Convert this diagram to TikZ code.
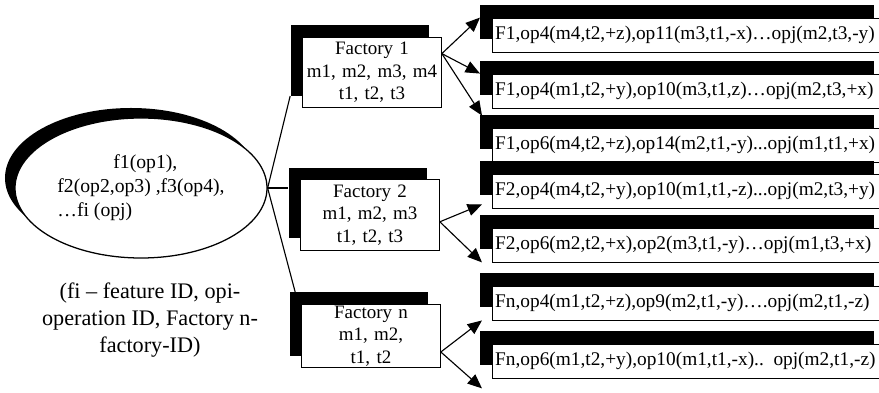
\documentclass[tikz,border=0pt]{standalone}
\usepackage{fontspec}
\setmainfont{Liberation Serif}
\usetikzlibrary{arrows.meta,calc,shapes.geometric,shadows}

\begin{document}
\begin{tikzpicture}[>={Triangle[length=3.6mm,width=3mm]},line width=0.8pt,
  feat/.style={draw,ellipse,fill=white,line width=0.9pt,minimum width=6.3cm,minimum height=3.5cm,inner sep=0pt,
    align=left,font=\fontsize{14}{17}\selectfont,
    general shadow={fill=black,shadow xshift=-0.25cm,shadow yshift=0.25cm}},
  fact/.style={draw,fill=white,line width=0.6pt,text width=3.4cm,inner sep=1pt,align=center,minimum height=1.76cm,
    font=\fontsize{13.5}{16}\selectfont,
    general shadow={fill=black,shadow xshift=-0.3cm,shadow yshift=0.3cm}},
  plan/.style={draw,fill=white,line width=0.6pt,text width=9.7cm,inner xsep=2pt,inner ysep=0pt,align=left,
    minimum height=0.85cm,anchor=west,font=\fontsize{13.75}{16}\selectfont,
    general shadow={fill=black,shadow xshift=-0.3cm,shadow yshift=0.33cm}}]
  \useasboundingbox (0,0) rectangle (21.975,-9.825);

  \node[feat] (e) at (3.525,-4.7)
     {\hspace*{1.4cm}f1(op1),\\f2(op2,op3) ,f3(op4),\\\ldots fi (opj)};
  \node[align=center,font=\fontsize{15.8}{19}\selectfont] (key) at (3.75,-8.0)
     {(fi -- feature ID, opi-\\operation ID, Factory n-\\factory-ID)};

  \node[fact] (f1) at (9.3,-1.81) {Factory 1\\m1, m2, m3, m4\\t1, t2, t3};
  \node[fact] (f2) at (9.25,-5.375) {Factory 2\\m1, m2, m3\\t1, t2, t3};
  \node[fact,minimum height=1.55cm] (fn) at (9.275,-8.4) {Factory n\\m1, m2,\\t1, t2};

  \node[plan] (o1) at (12.3,-0.875) {F1,op4(m4,t2,+z),op11(m3,t1,-x)\ldots opj(m2,t3,-y)};
  \node[plan] (o2) at (12.3,-2.275) {F1,op4(m1,t2,+y),op10(m3,t1,z)\ldots opj(m2,t3,+x)};
  \node[plan] (o3) at (12.3,-3.625) {F1,op6(m4,t2,+z),op14(m2,t1,-y)...opj(m1,t1,+x)};
  \node[plan] (o4) at (12.3,-4.775) {F2,op4(m4,t2,+y),op10(m1,t1,-z)...opj(m2,t3,+y)};
  \node[plan] (o5) at (12.3,-6.125) {F2,op6(m2,t2,+x),op2(m3,t1,-y)\ldots opj(m1,t3,+x)};
  \node[plan] (o6) at (12.3,-7.575) {Fn,op4(m1,t2,+z),op9(m2,t1,-y)\ldots.opj(m2,t1,-z)};
  \node[plan] (o7) at (12.3,-9.025) {Fn,op6(m1,t2,+y),op10(m1,t1,-x).. opj(m2,t1,-z)};

  \draw (e.east) -- ([shift={(-0.3,0.3)}]f1.south west);
  \draw (e.east) -- ($(e.east -| f2.west)+(-0.3,0)$);
  \draw (e.east) -- ([shift={(-0.15,0.3)}]fn.north west);

  \draw[->] ([yshift=0.47cm]f1.east) -- ([xshift=-0.3cm]o1.north west);
  \draw[->] ([yshift=0.47cm]f1.east) -- ([xshift=-0.3cm]o2.north west);
  \draw[->] ([yshift=0.47cm]f1.east) -- ([shift={(-0.25,0.3)}]o3.north west);
  \draw[->] ([yshift=-0.17cm]f2.east) -- ([shift={(-0.25,0.1)}]o4.south west);
  \draw[->] ([yshift=-0.17cm]f2.east) -- ([xshift=-0.25cm]o5.south west);
  \draw[->] ([yshift=-0.4cm]fn.east) -- ([xshift=-0.25cm]o6.south west);
  \draw[->] ([yshift=-0.4cm]fn.east) -- ([shift={(-0.25,-0.25)}]o7.south west);
\end{tikzpicture}
\end{document}
